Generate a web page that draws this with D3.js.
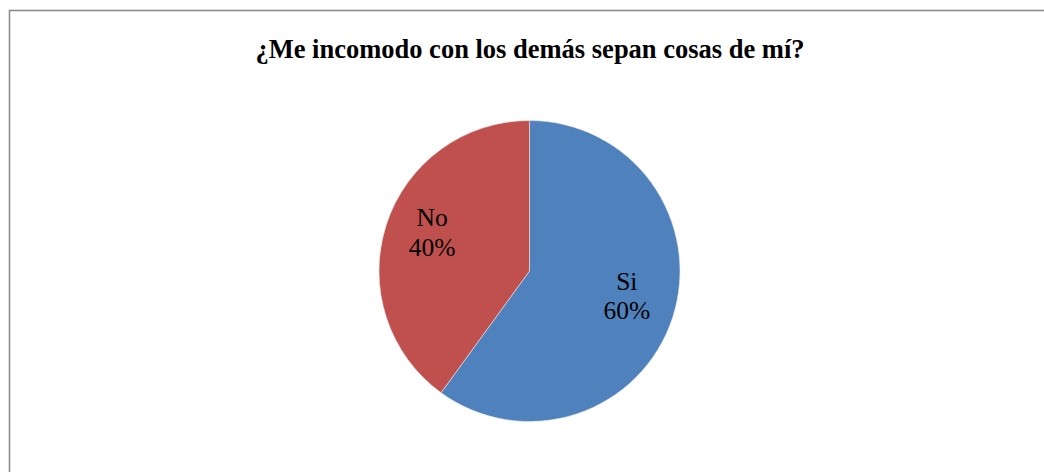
<!DOCTYPE html>
<html>
<head>
<meta charset="utf-8">
<script src="https://cdn.jsdelivr.net/npm/d3@7"></script>
<style>
  body { margin: 0; background: #fff; }
  svg { display: block; }
</style>
</head>
<body>
<script>
const title = '¿Me incomodo con los demás sepan cosas de mí?'
const categories = ['Si', 'No']
const values = [60, 40]
const colors = ['#4F81BD', '#C0504D']

const width = 1044, height = 472
const cx = 529.5, cy = 271, r = 150.5

let svg = d3.select('body').append('svg')
    .attr('width', width)
    .attr('height', height)

// chart frame (runs past the right and bottom edge of the picture)
svg.append('rect')
    .attr('x', 9.5)
    .attr('y', 10.5)
    .attr('width', 1100)
    .attr('height', 600)
    .attr('fill', '#fff')
    .attr('stroke', '#8c8c8c')
    .attr('stroke-width', 1.6)

svg.append('text')
    .attr('x', 530)
    .attr('y', 57.5)
    .attr('text-anchor', 'middle')
    .style('font-family', '"Liberation Serif", "Times New Roman", serif')
    .style('font-weight', 'bold')
    .style('font-size', '26.5px')
    .text(title)

let pie = d3.pie().sort(null).value(d => d.value)
let arc = d3.arc().innerRadius(0).outerRadius(r)
let labelArc = d3.arc().innerRadius(r * 0.68).outerRadius(r * 0.68)

let data = categories.map((c, i) => ({ name: c, value: values[i], color: colors[i] }))
let total = d3.sum(values)

let g = svg.append('g').attr('transform', `translate(${cx},${cy})`)

g.selectAll('path')
    .data(pie(data)).enter()
    .append('path')
    .attr('d', arc)
    .attr('fill', d => d.data.color)
    .attr('stroke', '#e8e8e8')
    .attr('stroke-width', 0.6)

let labels = g.selectAll('.lbl')
    .data(pie(data)).enter()
    .append('text')
    .attr('class', 'lbl')
    .attr('transform', d => {
        let [x, y] = labelArc.centroid(d)
        return `translate(${x},${y - 8})`
    })
    .attr('text-anchor', 'middle')
    .style('font-family', '"Liberation Serif", "Times New Roman", serif')
    .style('font-size', '25.5px')
    .attr('fill', '#000')

labels.append('tspan')
    .attr('x', 0)
    .attr('dy', '-0.2em')
    .text(d => d.data.name)
labels.append('tspan')
    .attr('x', 0)
    .attr('dy', '1.17em')
    .text(d => Math.round(d.data.value / total * 100) + '%')
</script>
</body>
</html>
